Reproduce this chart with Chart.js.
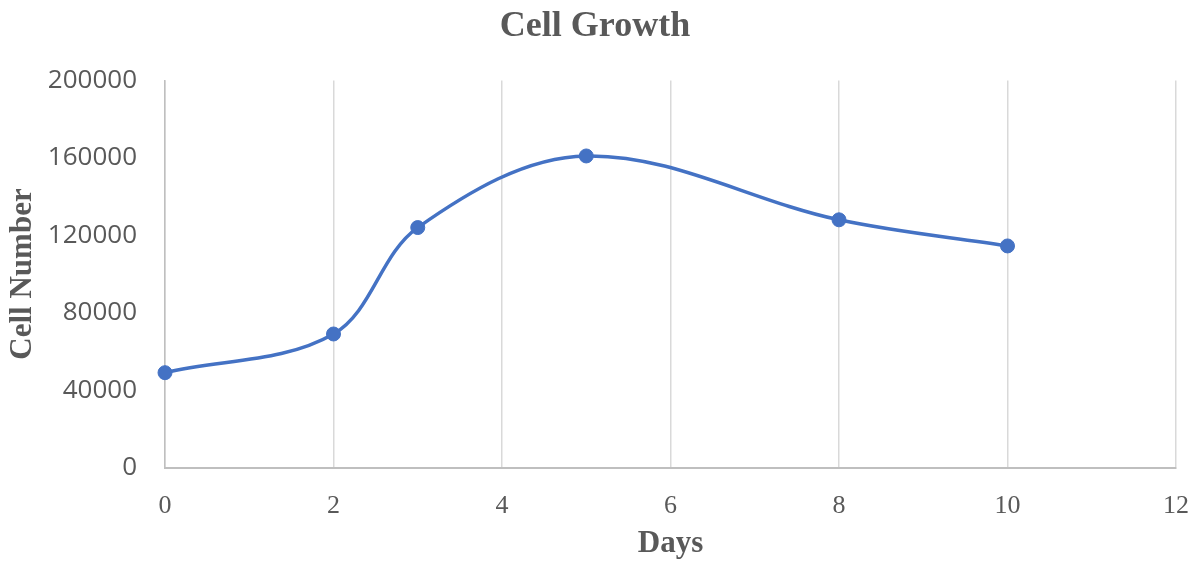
<!DOCTYPE html>
<html>
<head>
<meta charset="utf-8">
<title>Cell Growth</title>
<script src="https://cdn.jsdelivr.net/npm/chart.js@4/dist/chart.umd.min.js"></script>
<style>
  html, body { margin: 0; padding: 0; background: #ffffff; }
  #wrap { width: 1203px; height: 563px; }
</style>
</head>
<body>
<div id="wrap"><canvas id="chart" width="1203" height="563"></canvas></div>
<script>
// Measured cell counts per day
const days = [0, 2, 3, 5, 8, 10];
const cellCounts = [49000, 69000, 124000, 161000, 128000, 114500];
const xTicks = [0, 2, 4, 6, 8, 10, 12];
const yTicks = [0, 40000, 80000, 120000, 160000, 200000];

const textGray = '#595959';
const serif = '"Liberation Serif", "Times New Roman", serif';
const sans = '"Open Sans", "Liberation Sans", sans-serif';

const points = days.map((d, i) => ({ x: d, y: cellCounts[i] }));

new Chart(document.getElementById('chart'), {
  type: 'line',
  data: {
    datasets: [{
      label: 'Cell Number',
      data: points,
      borderColor: '#4472C4',
      backgroundColor: '#4472C4',
      borderWidth: 3.5,
      tension: 0.35,
      pointRadius: 7,
      pointBorderWidth: 1,
      pointBackgroundColor: '#4472C4',
      pointBorderColor: '#4472C4',
      fill: false,
      clip: false
    }]
  },
  options: {
    responsive: false,
    animation: false,
    layout: { padding: { left: 14, right: 27, top: 0, bottom: 0 } },
    plugins: {
      legend: { display: false },
      tooltip: { enabled: false },
      title: {
        display: true,
        text: 'Cell Growth',
        color: textGray,
        font: { family: serif, size: 36, weight: 'bold', lineHeight: 1.2 },
        padding: { top: 5, bottom: 32.3 }
      }
    },
    scales: {
      x: {
        type: 'linear',
        min: xTicks[0],
        max: xTicks[xTicks.length - 1],
        afterBuildTicks: (scale) => { scale.ticks = xTicks.map(v => ({ value: v })); },
        afterFit: (scale) => {
          scale.height = 95.5;
          scale.paddingLeft = 0;
          scale.paddingRight = 0;
        },
        grid: { color: '#d9d9d9', lineWidth: 1.5, drawTicks: false },
        border: { display: true, color: '#bfbfbf', width: 2 },
        ticks: {
          color: textGray,
          padding: 23,
          maxRotation: 0,
          font: { family: serif, size: 26 },
          callback: (v) => String(v)
        },
        title: {
          display: true,
          text: 'Days',
          color: textGray,
          font: { family: serif, size: 31, weight: 'bold', lineHeight: 1.2 },
          padding: { top: 0, bottom: 0 }
        }
      },
      y: {
        type: 'linear',
        min: yTicks[0],
        max: yTicks[yTicks.length - 1],
        afterBuildTicks: (scale) => { scale.ticks = yTicks.map(v => ({ value: v })); },
        afterFit: (scale) => {
          scale.width = 151;
          scale.paddingTop = 0;
          scale.paddingBottom = 0;
        },
        grid: { display: false, drawTicks: false },
        border: { display: true, color: '#bfbfbf', width: 1.5 },
        ticks: {
          color: textGray,
          padding: 28,
          font: { family: sans, size: 26 },
          callback: (v) => String(v)
        },
        title: {
          display: true,
          text: 'Cell Number',
          color: textGray,
          font: { family: serif, size: 31, weight: 'bold', lineHeight: 1.2 },
          padding: { top: -10, bottom: 0 }
        }
      }
    }
  }
});
</script>
</body>
</html>
